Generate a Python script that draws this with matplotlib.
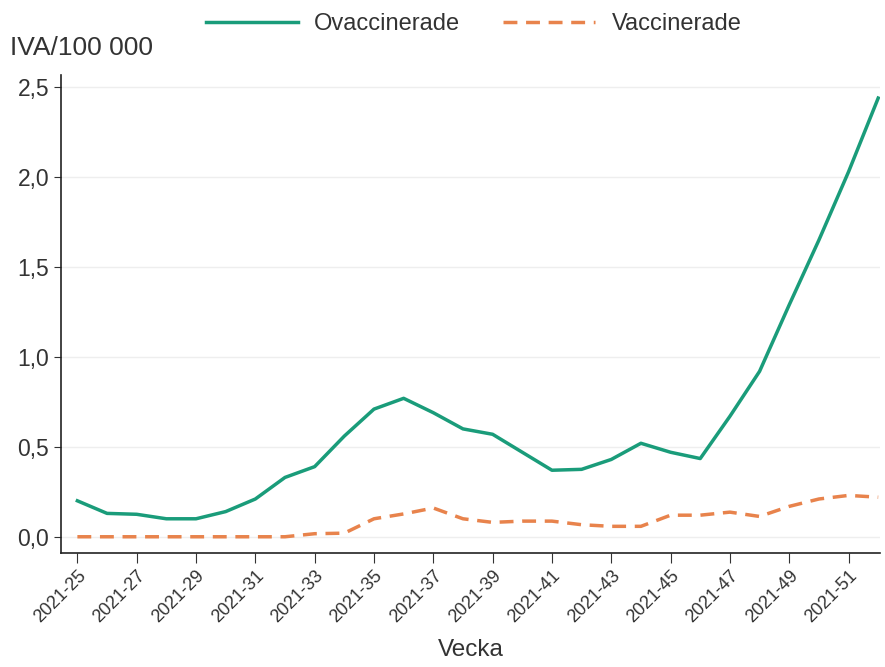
import numpy as np
import matplotlib
matplotlib.use("Agg")
import matplotlib.pyplot as plt
from matplotlib.ticker import FuncFormatter

plt.rcParams['font.family'] = ['Liberation Sans', 'DejaVu Sans']

# --- data ---
weeks = list(range(25, 53))
week_labels = [f"2021-{w}" for w in weeks]
ovaccinerade = [0.20, 0.13, 0.125, 0.10, 0.10, 0.14, 0.21, 0.33, 0.39, 0.56,
                0.71, 0.77, 0.69, 0.60, 0.57, 0.47, 0.37, 0.375, 0.43, 0.52,
                0.47, 0.435, 0.67, 0.92, 1.29, 1.65, 2.03, 2.44]
vaccinerade = [0.0, 0.0, 0.0, 0.0, 0.0, 0.0, 0.0, 0.0, 0.017, 0.02,
               0.10, 0.127, 0.16, 0.10, 0.08, 0.087, 0.087, 0.067, 0.058, 0.058,
               0.12, 0.12, 0.137, 0.113, 0.169, 0.21, 0.23, 0.22]

green = "#1a9c7a"
orange = "#e8834c"
text_col = "#333333"

fig = plt.figure(figsize=(8.85, 6.67), dpi=100)
ax = fig.add_axes([0.069, 0.171, 0.925, 0.717])

x = np.arange(len(weeks))
ax.plot(x, ovaccinerade, color=green, lw=2.5, label="Ovaccinerade")
ax.plot(x, vaccinerade, color=orange, lw=2.5, ls=(0, (4, 2.5)), label="Vaccinerade")

ax.set_xlim(-0.55, len(weeks) - 0.95)
ax.set_ylim(-0.09, 2.57)
ax.set_yticks([0, 0.5, 1.0, 1.5, 2.0, 2.5])
ax.yaxis.set_major_formatter(FuncFormatter(lambda v, p: f"{v:.1f}".replace(".", ",")))
ax.set_xticks(x[::2])
ax.set_xticklabels(week_labels[::2], rotation=45, ha="right", rotation_mode="anchor",
                   fontsize=13, color=text_col)
ax.tick_params(axis="y", labelsize=16.5, labelcolor=text_col, length=5, color="#333333")
ax.tick_params(axis="x", length=7, color="#333333")

ax.grid(axis="y", color="#eeeeee", lw=1)
ax.set_axisbelow(True)
for s in ["top", "right"]:
    ax.spines[s].set_visible(False)
for s in ["left", "bottom"]:
    ax.spines[s].set_color("#222222")
    ax.spines[s].set_linewidth(1.2)

ax.set_xlabel("Vecka", fontsize=17.5, color=text_col, labelpad=9)
fig.text(0.011, 0.918, "IVA/100 000", fontsize=19, color=text_col, va="baseline")

fig.legend(loc="upper center", bbox_to_anchor=(0.535, 1.012), ncol=2, frameon=False,
           fontsize=17, handlelength=3.9, columnspacing=1.8, handletextpad=0.7,
           labelcolor=text_col)

fig.savefig("out.png", dpi=100, facecolor="white")
